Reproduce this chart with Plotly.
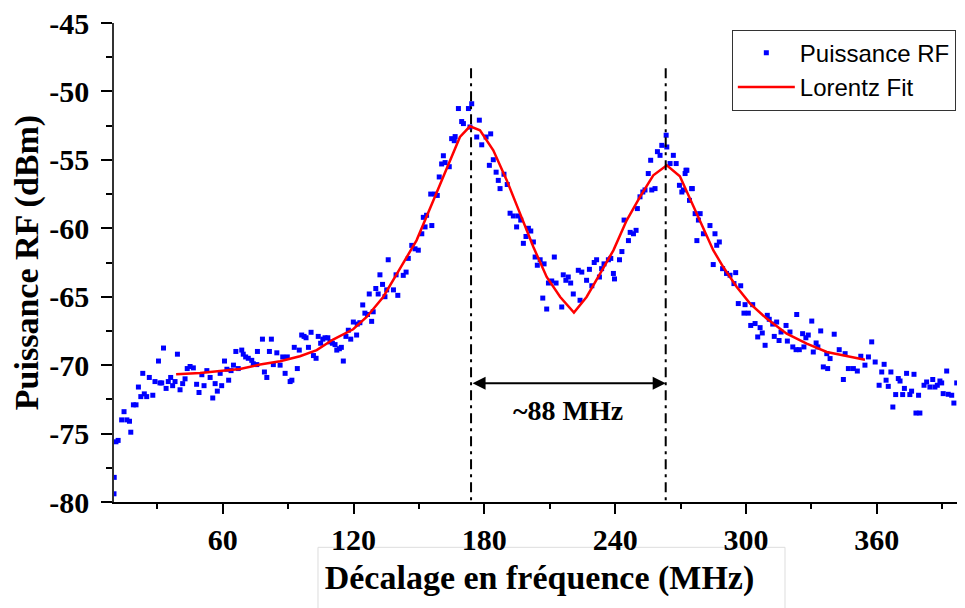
import plotly.graph_objects as go

# ---------------- data ----------------
freq_mhz = [
    10.1, 10.2, 11.0, 12.0, 13.6, 14.7, 16.0, 17.2, 17.8, 19.0, 20.2, 21.3, 22.4, 23.3, 24.0,
    25.1, 26.3, 27.9, 28.9, 30.5, 31.2, 32.0, 32.8, 34.0, 35.0, 36.1, 37.0, 38.1, 39.2, 40.4,
    41.6, 42.7, 43.7, 45.0, 46.5, 48.0, 49.1, 50.4, 51.4, 52.7, 54.2, 55.4, 56.5, 57.5, 58.8,
    59.5, 60.8, 61.9, 62.7, 63.8, 64.9, 66.0, 67.1, 68.7, 69.4, 70.5, 71.7, 73.3, 74.0, 75.6,
    75.9, 78.2, 79.1, 80.2, 81.4, 82.3, 83.2, 84.8, 86.3, 87.5, 88.6, 89.6, 90.9, 91.7, 92.8,
    94.2, 95.1, 96.2, 97.3, 98.2, 99.3, 100.5, 101.6, 102.8, 103.8, 104.9, 105.9, 106.9, 108.2, 109.2,
    110.3, 111.5, 112.3, 113.5, 114.4, 115.3, 116.5, 117.6, 118.7, 119.9, 121.4, 121.7, 122.9, 124.2, 125.2,
    126.4, 127.2, 128.3, 129.0, 130.2, 131.3, 132.1, 133.3, 134.4, 135.2, 135.9, 138.3, 139.5, 140.3,
    142.8, 144.1, 145.1, 146.7, 148.2, 149.7, 151.3, 152.0, 152.8, 153.5, 155.4, 155.9, 157.4, 158.4, 159.3,
    160.4, 161.2, 162.0, 163.9, 165.0, 166.2, 166.6, 168.1, 169.6, 170.4, 172.7, 173.4, 174.2, 176.5, 177.7,
    178.8, 180.8, 182.3, 182.9, 184.1, 185.4, 186.4, 187.2, 189.0, 190.5, 191.8, 193.3, 194.8, 195.6, 196.7,
    197.9, 199.1, 200.2, 201.3, 202.5, 203.3, 204.3, 205.6, 206.8, 207.4, 208.6, 209.4, 210.9, 212.1, 212.9,
    215.5, 216.2, 217.4, 218.5, 219.6, 220.8, 223.1, 223.9, 224.7, 226.9, 228.2, 229.3, 230.4, 231.5, 232.8,
    233.8, 234.9, 236.9, 238.0, 239.2, 239.7, 242.0, 243.1, 244.1, 246.1, 246.9, 248.4, 249.6, 250.2, 251.4,
    252.7, 253.7, 255.2, 256.3, 256.8, 258.3, 259.4, 260.6, 261.4, 263.4, 263.7, 265.2, 266.7, 268.0, 269.5,
    270.6, 271.3, 272.1, 272.5, 272.9, 274.1, 275.1, 275.4, 276.7, 277.5, 278.2, 279.0, 280.5, 283.5, 285.0,
    285.8, 286.6, 287.8, 289.3, 291.1, 292.7, 294.5, 295.3, 296.5, 297.6, 299.1, 299.6, 301.1, 302.2, 303.1,
    304.2, 305.4, 306.5, 307.5, 308.8, 309.8, 310.7, 312.3, 313.0, 314.1, 315.2, 316.1, 318.4, 319.0, 320.2,
    321.5, 323.0, 323.3, 324.5, 326.0, 326.6, 327.5, 328.6, 330.2, 330.9, 332.2, 333.0, 334.3, 335.5, 337.1,
    337.5, 338.6, 340.5, 342.8, 344.7, 345.5, 347.0, 349.3, 351.1, 352.7, 354.6, 356.2, 357.7, 359.3, 361.1,
    362.3, 363.4, 364.3, 365.3, 366.5, 367.4, 368.7, 369.9, 370.7, 371.9, 372.7, 373.7, 375.2, 376.0, 377.1,
    378.0, 379.2, 379.8, 381.7, 382.9, 384.4, 385.7, 386.7, 387.8, 389.0, 389.8, 390.5, 392.1, 392.8, 394.4,
    395.4, 396.7, 398.2, 399.4,
]
power_dbm = [
    -79.4, -78.2, -75.6, -75.5, -74.0, -73.4, -74.0, -74.1, -74.9, -72.9, -72.9, -71.6, -72.3, -70.6, -72.1,
    -72.3, -70.9, -72.2, -71.2, -69.7, -71.3, -71.3, -68.75, -71.7, -71.2, -70.9, -71.5, -71.2, -69.2, -71.8,
    -71.35, -71.0, -70.25, -70.1, -70.2, -71.4, -72.0, -70.7, -71.5, -70.4, -70.9, -72.4, -71.35, -71.9, -70.6,
    -71.5, -69.7, -70.3, -71.1, -70.4, -70.0, -69.0, -70.25, -68.9, -69.2, -69.4, -69.5, -69.65, -69.9, -69.96,
    -69.0, -68.1, -70.5, -70.9, -69.0, -68.1, -69.96, -69.1, -70.0, -69.4, -70.6, -69.4, -71.2, -71.1, -68.7,
    -70.25, -68.9, -67.8, -67.9, -68.0, -68.7, -67.6, -69.3, -69.5, -67.9, -68.4, -68.1, -68.0, -68.0, -68.3,
    -68.4, -68.5, -68.9, -68.8, -68.7, -69.7, -67.9, -67.45, -68.1, -66.85, -67.8, -67.0, -66.9, -65.6, -66.2,
    -66.3, -64.8, -66.8, -66.1, -64.4, -64.8, -63.4, -64.1, -65.0, -64.5, -62.3, -64.5, -63.4, -64.9,
    -63.44, -63.2, -62.2, -61.25, -61.5, -61.6, -60.4, -59.2, -59.9, -59.05, -57.5, -59.8, -57.5, -57.6, -56.25,
    -55.3, -54.7, -55.2, -55.5, -53.45, -53.6, -53.3, -51.25, -52.2, -52.35, -51.25, -52.6, -50.9, -53.33, -52.1,
    -53.9, -53.33, -55.4, -53.1, -54.99, -55.9, -56.5, -57.1, -56.05, -56.8, -58.9, -59.1, -59.9, -59.1, -59.4,
    -61.1, -60.6, -60.0, -60.2, -61.0, -62.1, -62.7, -62.3, -65.1, -62.6, -65.9, -64.0, -63.85, -62.1, -64.0,
    -65.75, -63.4, -63.8, -63.56, -64.0, -64.8, -63.07, -65.26, -63.2, -63.8, -63.0, -64.2, -62.5, -62.3, -63.56,
    -62.95, -62.6, -62.3, -62.2, -63.3, -63.7, -62.3, -61.7, -59.4, -60.9, -60.3, -60.4, -60.15, -58.56, -57.7,
    -57.35, -57.2, -56.0, -55.03, -57.2, -57.1, -54.4, -54.67, -53.94, -53.2, -54.06, -55.27, -54.67, -55.27, -56.86,
    -57.35, -57.2, -56.0, -55.76, -55.76, -57.96, -57.1, -57.1, -58.93, -60.9, -59.4, -58.93, -60.4, -59.8, -62.65,
    -60.4, -61.24, -61.0, -62.95, -63.3, -63.43, -64.04, -63.24, -65.5, -64.2, -66.2, -65.58, -66.2, -67.1, -65.58,
    -66.96, -67.94, -67.26, -67.65, -68.55, -66.36, -66.65, -67.0, -67.9, -66.85, -68.2, -67.58, -67.1, -68.24, -67.58,
    -68.67, -68.87, -66.3, -68.87, -67.7, -68.67, -68.0, -67.8, -66.78, -69.04, -68.38, -68.67, -67.5, -70.13, -69.16,
    -70.25, -69.52, -67.74, -68.87, -71.05, -69.16, -70.25, -70.25, -70.43, -69.35, -70.0, -69.4, -68.3, -69.77, -71.47,
    -70.5, -69.94, -71.1, -71.55, -70.5, -73.06, -72.15, -70.98, -71.16, -72.15, -71.7, -70.6, -72.15, -71.9, -70.67,
    -73.5, -72.2, -73.5, -71.47, -71.23, -71.6, -71.05, -71.6, -71.47, -71.16, -71.3, -72.08, -70.43, -72.13, -72.2,
    -72.77, -71.3, -71.6, -70.98,
]

fit_freq = [38.6, 49.6, 58.7, 67.9, 77.1, 86.3, 95.4, 103.1, 110.6, 119.8, 126.0, 133.6, 140.4,
            148.9, 156.6, 164.3, 168.8, 173.4, 178.0, 184.1, 190.3, 196.4, 202.5, 208.6, 214.8,
            221.1, 226.9, 233.1, 239.2, 245.3, 251.4, 257.5, 263.7, 269.7, 274.4, 279.0, 285.0,
            289.6, 295.8, 301.9, 309.5, 318.7, 327.9, 337.1, 346.3, 354.6]
fit_dbm = [-70.67, -70.57, -70.43, -70.28, -69.96, -69.72, -69.35, -68.9, -68.13, -67.38, -66.48, -65.02, -63.19,
           -60.88, -57.97, -55.03, -53.33, -52.55, -52.84, -54.3, -56.5, -58.93, -61.37, -63.56, -65.02,
           -66.16, -65.02, -63.31, -61.61, -59.42, -57.71, -56.13, -55.4, -56.2, -57.9, -59.5, -61.6,
           -62.83, -64.29, -65.5, -66.6, -67.7, -68.43, -69.04, -69.35, -69.6]

peak_freqs = [173.9, 263.2]
marker_top = -48.3
arrow_level = -71.33
label_level = -73.3
spacing_label = "~88 MHz"

x_ticks = [60, 120, 180, 240, 300, 360]
y_ticks = [-80, -75, -70, -65, -60, -55, -50, -45]

# ---------------- figure ----------------
serif = "Liberation Serif, Times New Roman, serif"
sans = "Liberation Sans, Arial, sans-serif"

fig = go.Figure()
fig.add_trace(go.Scatter(
    x=freq_mhz, y=power_dbm, mode="markers", name="Puissance RF",
    marker=dict(symbol="square", size=5, color="#0000FF", line=dict(width=0)),
))
fig.add_trace(go.Scatter(
    x=fit_freq, y=fit_dbm, mode="lines", name="Lorentz Fit",
    line=dict(color="#FF0000", width=2.5),
))

for pf in peak_freqs:
    fig.add_shape(type="line", xref="x", yref="y", x0=pf, x1=pf, y0=marker_top, y1=-80,
                  line=dict(color="black", width=2, dash="10px,5px,3px,5px"))

fig.add_annotation(x=peak_freqs[1], y=arrow_level, ax=peak_freqs[0], ay=arrow_level,
                   xref="x", yref="y", axref="x", ayref="y", text="", showarrow=True,
                   arrowhead=2, arrowside="end+start", arrowsize=1.3, arrowwidth=2,
                   arrowcolor="black", standoff=0, startstandoff=0)
fig.add_annotation(x=sum(peak_freqs) / 2, y=label_level, xref="x", yref="y",
                   text=spacing_label, showarrow=False,
                   font=dict(family=serif, size=28, color="black", weight="bold"))

# faint frame around the x-axis title (as in the source image)
fig.add_shape(type="rect", xref="paper", yref="paper", x0=0.2397, x1=0.7885, y0=-0.25, y1=-0.0946,
              line=dict(color="#dddddd", width=1), fillcolor="rgba(0,0,0,0)", layer="below")

fig.update_layout(
    width=965, height=608,
    margin=dict(l=106, r=8, t=15, b=114, autoexpand=False),
    paper_bgcolor="white", plot_bgcolor="white",
    showlegend=True,
    legend=dict(x=0.726, y=0.986, xanchor="left", yanchor="top",
                bgcolor="white", bordercolor="#333333", borderwidth=1,
                font=dict(family=sans, size=24, color="black"),
                itemwidth=57, tracegroupgap=0),
)
fig.update_xaxes(
    range=[10.1, 400.5], tickvals=x_ticks, ticktext=[str(v) for v in x_ticks],
    showgrid=False, zeroline=False, showline=True, linecolor="black", linewidth=2,
    ticks="outside", ticklen=10, tickwidth=1.5, tickcolor="black",
    minor=dict(dtick=30, tick0=0, ticks="outside", ticklen=5, tickwidth=1.5, tickcolor="black", showgrid=False),
    tickfont=dict(family=serif, size=30, color="black", weight="bold"),
    ticklabeloverflow="allow",
    title=dict(text="Décalage en fréquence (MHz)", standoff=10,
               font=dict(family=serif, size=34, color="black", weight="bold")),
)
fig.update_yaxes(
    range=[-80, -45], tickvals=y_ticks, ticktext=[str(v) for v in y_ticks],
    showgrid=False, zeroline=False, showline=True, linecolor="#333333", linewidth=1.5,
    ticks="outside", ticklen=11, tickwidth=1.5, tickcolor="black",
    minor=dict(dtick=2.5, tick0=-80, ticks="outside", ticklen=6, tickwidth=1.5, tickcolor="black", showgrid=False),
    tickfont=dict(family=serif, size=30, color="black", weight="bold"),
    ticklabelstandoff=6, ticklabeloverflow="allow",
    title=dict(text="Puissance RF (dBm)", standoff=14,
               font=dict(family=serif, size=34, color="black", weight="bold")),
)

fig.write_html("out.html")
